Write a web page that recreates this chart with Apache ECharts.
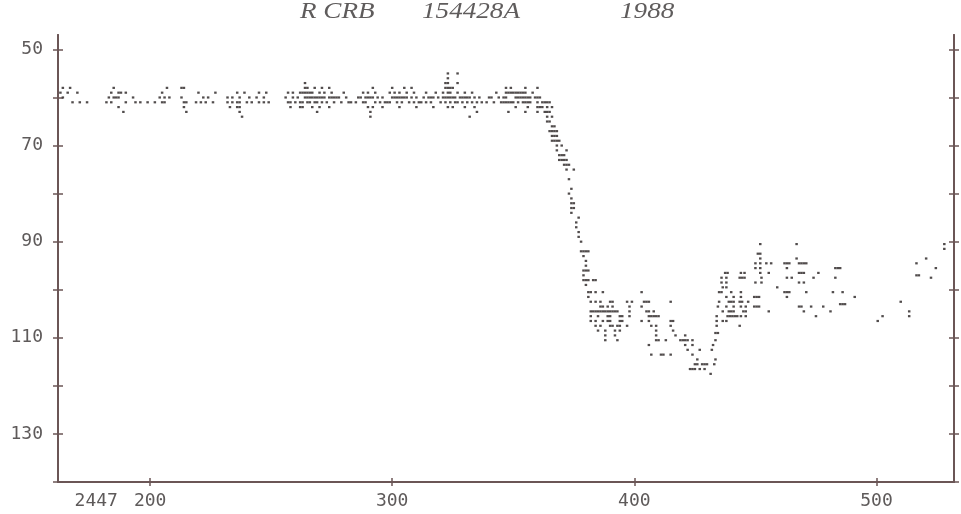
<!DOCTYPE html>
<html>
<head>
<meta charset="utf-8">
<script src="https://cdn.jsdelivr.net/npm/echarts@6/dist/echarts.min.js"></script>
<style>
html,body{margin:0;padding:0;background:#fff;}
#chart{width:961px;height:514px;}
</style>
</head>
<body>
<div id="chart"></div>
<script>
// JD offsets from 2447000, magnitude estimates in units of 0.1 mag (y axis, inverted)
const JD_BASE = 2447000;
const titleParts = ['R CRB', '154428A', '1988'];
const xTicks = [200, 300, 400, 500];
const yLabelTicks = [50, 70, 90, 110, 130];
const yMinorTicks = [50, 60, 70, 80, 90, 100, 110, 120, 130, 140];

const plateau = [
 [163,59],[164,58],[164,60],[166,59],[167,58],[168,61],[170,59],[171,61],[174,61],
 [182,61],[183,60],[184,59],[184,61],[185,58],[185,60],[186,60],[187,59],[187,60],[187,62],[188,59],[189,63],[190,59],[190,61],
 [193,60],[194,61],[196,61],[199,61],[202,61],
 [204,60],[205,59],[205,61],[206,60],[206,61],[207,58],[208,60],
 [213,58],[213,60],[214,58],[214,61],[214,62],[215,61],[215,63],
 [219,61],[220,59],[221,61],[222,60],[223,61],[224,60],[226,61],[227,59],
 [232,60],[232,61],[233,62],[234,60],[234,61],[236,59],[236,61],[236,62],[237,60],[237,61],[237,62],[237,63],[238,64],[239,59],[240,61],[241,60],[242,61],
 [244,60],[245,59],[245,61],[247,60],[247,61],[248,59],[249,61],
 [256,60],[257,59],[257,61],[258,61],[258,62],[259,59],[259,60],[260,61],[261,60],[262,62],[263,61],[264,59],
 [264,57],[264,58],[265,58],[268,58],[271,58],[274,58],
 [262,59],[263,59],[265,59],[266,59],[267,59],[270,59],[272,59],[275,59],
 [264,60],[265,60],[266,60],[267,60],[268,60],[269,60],[270,60],[271,60],[272,60],[274,60],[275,60],[276,60],
 [262,61],[265,61],[266,61],[268,61],[269,61],[271,61],[273,61],[276,61],
 [263,62],[267,62],[270,62],[274,62],[269,63],
 [277,60],[278,60],[281,60],[279,61],[282,61],[283,61],[280,59],
 [288,59],[290,59],[293,59],[286,60],[287,60],[289,60],[290,60],[291,60],[292,60],[294,60],[296,60],
 [285,61],[288,61],[289,61],[293,61],[295,61],[297,61],[298,61],[290,62],[292,62],[296,62],[291,63],[291,64],[292,58],
 [300,58],[305,58],[308,58],[299,59],[301,59],[303,59],[306,59],[309,59],
 [300,60],[301,60],[302,60],[303,60],[304,60],[305,60],[306,60],[308,60],[310,60],
 [299,61],[302,61],[304,61],[307,61],[309,61],[311,61],[303,62],[310,62],
 [314,59],[318,59],[313,60],[315,60],[316,60],[317,60],[319,60],[312,61],[314,61],[316,61],[320,61],[317,62],
 [323,55],[327,55],[323,56],[322,57],[323,57],[327,57],[322,58],[323,58],[324,58],[325,58],
 [321,59],[323,59],[324,59],[327,59],[321,60],[322,60],[323,60],[324,60],[325,60],[326,60],[328,60],
 [322,61],[324,61],[326,61],[327,61],[323,62],[325,62],
 [330,59],[333,59],[329,60],[330,60],[331,60],[332,60],[334,60],[336,60],
 [329,61],[331,61],[333,61],[335,61],[337,61],[330,62],[334,62],[335,63],[332,64],
 [340,60],[341,60],[344,60],[339,61],[342,61],[345,61],[343,59],
 [347,58],[349,58],[355,58],[360,58],
 [347,59],[348,59],[349,59],[350,59],[351,59],[352,59],[353,59],[354,59],[355,59],[358,59],
 [346,60],[347,60],[351,60],[352,60],[353,60],[354,60],[355,60],[356,60],[357,60],[359,60],[360,60],[361,60],
 [346,61],[347,61],[348,61],[349,61],[350,61],[352,61],[354,61],[355,61],[356,61],[357,61],[360,61],[362,61],
 [351,62],[356,62],[360,62],[361,62],[348,63],[355,63],[360,63],[363,63]
];

const decline = [
 [363,61],[364,61],[365,61],[362,62],[364,62],[366,62],[364,63],[365,63],[364,64],[366,64],[364,65],[365,65],
 [366,66],[367,66],[365,67],[366,67],[367,67],[368,67],[366,68],[367,68],[368,68],[366,69],[367,69],[368,69],[369,69],
 [368,70],[370,70],[368,71],[372,71],[369,72],[370,72],[371,72],[369,73],[370,73],[371,73],[372,73],
 [371,74],[372,74],[373,74],[372,75],[375,75],[373,77],[374,79],[373,80],[374,81],[374,82],[375,82],
 [374,83],[375,83],[374,84],[377,85],[376,86],[376,87],[377,88],[377,89],[378,90],
 [378,92],[379,92],[380,92],[381,92],[379,93],[380,94],[380,95],[379,96],[380,96],[381,96],[379,97],
 [379,98],[380,98],[381,98],[383,98],[384,98],[380,99]
];

const minimum = [
 [381,100.5],[382,100.5],[384,100.5],[387,100.5],[381,101.5],
 [382,102.5],[384,102.5],[386,102.5],[390,102.5],[391,102.5],[397,102.5],[399,102.5],
 [386,103.5],[387,103.5],[389,103.5],[391,103.5],[398,103.5],
 [382,104.5],[383,104.5],[384,104.5],[385,104.5],[386,104.5],[387,104.5],[388,104.5],[389,104.5],[390,104.5],[391,104.5],[392,104.5],[393,104.5],[398,104.5],
 [382,105.5],[385,105.5],[389,105.5],[390,105.5],[394,105.5],[395,105.5],[398,105.5],
 [382,106.5],[384,106.5],[387,106.5],[389,106.5],[390,106.5],[394,106.5],[395,106.5],
 [384,107.5],[386,107.5],[390,107.5],[391,107.5],[393,107.5],[394,107.5],[397,107.5],
 [385,108.5],[388,108.5],[392,108.5],[394,108.5],[388,109.5],[392,109.5],[388,110.5],[393,110.5],
 [403,100.5],[403,103.5],[403,106.5],[404,102.5],[405,102.5],[406,102.5],[405,104.5],[406,104.5],[408,104.5],
 [406,105.5],[407,105.5],[408,105.5],[409,105.5],[410,105.5],[406,106.5],[407,107.5],[409,107.5],
 [409,108.5],[409,109.5],[409,110.5],[406,111.5],[407,113.5],[410,110.5],[411,113.5],[412,113.5],[413,110.5],
 [415,106.5],[416,106.5],[415,107.5],[416,108.5],[417,109.5],[415,113.5],[415,102.5],
 [419,110.5],[420,110.5],[421,110.5],[422,110.5],[421,109.5],[421,111.5],[424,110.5],[424,111.5],
 [422,112.5],[427,112.5],[424,113.5],[426,114.5],[425,115.5],[426,115.5],[428,115.5],[429,115.5],[430,115.5],
 [423,116.5],[424,116.5],[425,116.5],[427,116.5],[429,116.5],[431.5,117.5]
];

const recovery = [
 [437.5,96.5],[438.5,96.5],[444,96.5],[445.5,96.5],[436,97.5],[438,97.5],[443.5,97.5],[444.5,97.5],[445.5,97.5],
 [436,98.5],[438,98.5],[436.5,99.5],[438,99.5],[435,100.5],[436,100.5],[440,100.5],[444,100.5],
 [438,101.5],[441,101.5],[444,101.5],[435,102.5],[439,102.5],[440,102.5],[441,102.5],[443.5,102.5],[444.5,102.5],[447,102.5],
 [434.5,103.5],[438,103.5],[441,103.5],[444,103.5],[446,103.5],[436.5,104.5],[439,104.5],[440,104.5],[441,104.5],[445,104.5],[446,104.5],
 [434,105.5],[438.5,105.5],[439.5,105.5],[440.5,105.5],[441.5,105.5],[442.5,105.5],[444,105.5],[446,105.5],
 [434,106.5],[436.5,106.5],[438,106.5],[434,107.5],[443.5,107.5],[433.5,109],[434.5,109],[433.5,110.5],
 [432.5,111.5],[432,112.5],[433.5,114.5],[433,115.5],
 [452,90.5],[451,92.5],[452,92.5],[452,93.5],[450,94.5],[452,94.5],[454.5,94.5],[456.5,94.5],[450,95.5],[452,95.5],
 [452,96.5],[455.5,96.5],[452.5,97.5],[450,98.5],[452.5,98.5],[449.5,101.5],[450.5,101.5],[451.5,101.5],
 [449.5,103.5],[450.5,103.5],[451.5,103.5],[455.5,104.5]
];

const late = [
 [459,99.5],[462,94.5],[463,94.5],[464,94.5],[463,95.5],[463,97.5],[462,100.5],[463,100.5],[464,100.5],[463,101.5],
 [467,90.5],[467,93.5],[468,94.5],[469,94.5],[470,94.5],[471,94.5],[468,96.5],[469,96.5],[470,96.5],[465,97.5],
 [468,98.5],[470,98.5],[471,100.5],[468,103.5],[469,103.5],[470,104.5],[473,103.5],[474,97.5],[476,96.5],
 [478,103.5],[475,105.5],[481,104.5],[482,100.5],[483,97.5],[483,95.5],[484,95.5],[485,95.5],
 [485,103],[486,103],[487,103],[486,100.5],[491,101.5],
 [500.5,106.5],[502.5,105.5],[510,102.5],[513.5,104.5],[513.5,105.5],
 [516.5,94.5],[516.5,97],[517.5,97],[520.5,93.5],[522.5,97.5],[524.5,95.5],[528,90.5],[528,91.5]
];

const AXIS_COLOR = '#6b5656';
const LABEL_COLOR = '#5e5a5a';
const MONO = '"DejaVu Sans Mono", monospace';
const X_MIN = 162, X_MAX = 532, Y_MIN = 47, Y_MAX = 140;

function xAxisDef(inside, main) {
  return {
    type: 'value', min: X_MIN, max: X_MAX, position: 'bottom',
    axisLine: { show: main, onZero: false, lineStyle: { color: AXIS_COLOR, width: 2 } },
    axisTick: { show: true, inside: inside, length: 4, customValues: xTicks, lineStyle: { color: AXIS_COLOR, width: 1.5 } },
    axisLabel: main ? {
      show: true, customValues: xTicks, margin: 10,
      color: LABEL_COLOR, fontFamily: MONO, fontSize: 18,
      formatter: function (v) {
        return v === 200 ? '{a|' + String(JD_BASE + 200).slice(0, 4) + '}{g|}{c|200}{b|}' : String(v);
      },
      rich: {
        a: { color: LABEL_COLOR, fontFamily: MONO, fontSize: 18 },
        c: { color: LABEL_COLOR, fontFamily: MONO, fontSize: 18 },
        g: { width: 16 },
        b: { width: 59 }
      }
    } : { show: false },
    splitLine: { show: false }
  };
}
function yAxisDef(position, inside, showLabel) {
  return {
    type: 'value', min: Y_MIN, max: Y_MAX, inverse: true, position: position,
    axisLine: { show: true, onZero: false, lineStyle: { color: AXIS_COLOR, width: 2 } },
    axisTick: { show: true, inside: inside, length: 5, customValues: yMinorTicks, lineStyle: { color: AXIS_COLOR, width: 1.5 } },
    axisLabel: showLabel ? {
      show: true, customValues: yLabelTicks, margin: 15,
      color: LABEL_COLOR, fontFamily: MONO, fontSize: 18
    } : { show: false },
    splitLine: { show: false }
  };
}

const chart = echarts.init(document.getElementById('chart'), null, { renderer: 'canvas' });
const titleFont = 'italic 23px "Liberation Serif", serif';
chart.setOption({
  animation: false,
  backgroundColor: '#ffffff',
  grid: { left: 58, right: 7, top: 35, bottom: 32, containLabel: false },
  graphic: [
    { type: 'text', x: 300, y: 12, scaleX: 1.18, silent: true,
      style: { text: titleParts[0], font: titleFont, fill: '#5f5c5c', align: 'left', verticalAlign: 'middle', textAlign: 'left', textVerticalAlign: 'middle' } },
    { type: 'text', x: 422, y: 12, scaleX: 1.18, silent: true,
      style: { text: titleParts[1], font: titleFont, fill: '#5f5c5c', align: 'left', verticalAlign: 'middle', textAlign: 'left', textVerticalAlign: 'middle' } },
    { type: 'text', x: 620, y: 12, scaleX: 1.18, silent: true,
      style: { text: titleParts[2], font: titleFont, fill: '#5f5c5c', align: 'left', verticalAlign: 'middle', textAlign: 'left', textVerticalAlign: 'middle' } }
  ],
  xAxis: [xAxisDef(false, true), xAxisDef(true, false)],
  yAxis: [
    yAxisDef('left', false, true),
    yAxisDef('left', true, false),
    yAxisDef('right', false, false),
    yAxisDef('right', true, false)
  ],
  series: [{
    type: 'scatter',
    xAxisIndex: 0, yAxisIndex: 0,
    symbol: 'rect',
    symbolSize: [2.5, 2.2],
    silent: true,
    itemStyle: { color: '#3e3939', opacity: 0.9 },
    data: plateau.concat(decline, minimum, recovery, late)
  }]
});
</script>
</body>
</html>
